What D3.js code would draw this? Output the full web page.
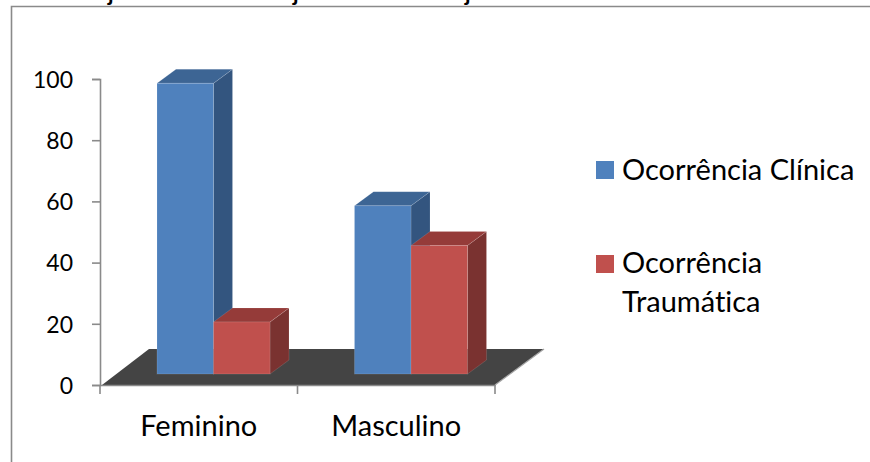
<!DOCTYPE html>
<html>
<head>
<meta charset="utf-8">
<script src="https://cdn.jsdelivr.net/npm/d3@7"></script>
<style>
  html, body { margin: 0; padding: 0; background: #fff; }
  svg { display: block; }
  text { font-family: Lato, "Open Sans", sans-serif; fill: #000; font-variant-ligatures: none; }
</style>
</head>
<body>
<svg width="870" height="462"></svg>
<script>
var categories = ["Feminino", "Masculino"];
var seriesNames = ["Ocorrência Clínica", "Ocorrência Traumática"];
var clinica = [95, 55];
var traumatica = [17, 42];
var yTicks = [0, 20, 40, 60, 80, 100];

var front = ["#4f81bd", "#c0504d"],
    topFace = ["#3d6594", "#953b39"],
    sideFace = ["#33557f", "#7a3230"];

var svg = d3.select("svg");

var x = d3.scaleBand().domain(categories).range([100, 495]);
var y = d3.scaleLinear().domain([0, 100]).range([385, 79]);
var inner = d3.scaleBand().domain(seriesNames).range([57, 170]);

// depth of the floor and of the boxes
var floorDx = 49, floorDy = -36;
var boxDx = 19, boxDy = -14, boxLift = 11;

// sheet border, open at the right and bottom
svg.append("path")
    .attr("d", "M11.5,462V6.5H870")
    .attr("fill", "none")
    .attr("stroke", "#8a8a8a")
    .attr("stroke-width", 1.6);

// descenders of the heading line above the border
svg.append("g")
    .selectAll("text")
    .data([108, 293, 465])
    .enter().append("text")
    .attr("x", function(d) { return d; })
    .attr("y", 1)
    .style("font-size", "22px")
    .style("font-weight", "bold")
    .text("j");

// floor
var fx0 = x.range()[0] + 2, fx1 = x.range()[1], fy = y(0);
svg.append("path")
    .attr("d", d3.line()([
        [fx0, fy], [fx1, fy],
        [fx1 + floorDx, fy + floorDy], [fx0 + floorDx - 2, fy + floorDy]
    ]) + "Z")
    .attr("fill", "#444444");
svg.append("path")
    .attr("d", d3.line()([[fx1, fy], [fx1 + floorDx, fy + floorDy]]))
    .attr("fill", "none")
    .attr("stroke", "#a6a6a6")
    .attr("stroke-width", 1.2);

// boxes, one series at a time so the red ones sit over the blue sides
[clinica, traumatica].forEach(function(values, s) {
    var g = svg.append("g").attr("class", "series");
    var boxes = g.selectAll("g")
        .data(values)
        .enter().append("g");

    function left(d, i) { return x(categories[i]) + inner(seriesNames[s]); }
    var w = inner.bandwidth();
    var base = y(0) - boxLift;

    boxes.append("path")
        .attr("fill", sideFace[s])
        .attr("stroke", "#ffffff")
        .attr("stroke-opacity", 0.12)
        .attr("d", function(d, i) {
            var xr = left(d, i) + w, t = y(d) - boxLift;
            return d3.line()([[xr, t], [xr + boxDx, t + boxDy], [xr + boxDx, base + boxDy], [xr, base]]) + "Z";
        });

    boxes.append("path")
        .attr("fill", topFace[s])
        .attr("stroke", "#ffffff")
        .attr("stroke-opacity", 0.12)
        .attr("d", function(d, i) {
            var xl = left(d, i), t = y(d) - boxLift;
            return d3.line()([[xl, t], [xl + boxDx, t + boxDy], [xl + w + boxDx, t + boxDy], [xl + w, t]]) + "Z";
        });

    boxes.append("rect")
        .attr("fill", front[s])
        .attr("stroke", "#ffffff")
        .attr("stroke-opacity", 0.12)
        .attr("x", left)
        .attr("y", function(d) { return y(d) - boxLift; })
        .attr("width", w)
        .attr("height", function(d) { return base - (y(d) - boxLift); });
});

// value axis
var yAxis = svg.append("g")
    .attr("transform", "translate(100,0)")
    .call(d3.axisLeft(y).tickValues(yTicks).tickSize(8).tickSizeOuter(8).tickPadding(19));
yAxis.selectAll("text").style("font-size", "23px").attr("dy", "0.36em");

// category axis: labels centred in each band, ticks on the band edges
var xAxis = svg.append("g")
    .attr("transform", "translate(0," + y(0) + ")")
    .call(d3.axisBottom(x).tickSize(0).tickPadding(30));
xAxis.selectAll("text").style("font-size", "29px").attr("dy", "0.71em");
xAxis.selectAll(".tick line").remove();
xAxis.selectAll(".edge")
    .data(d3.range(categories.length + 1))
    .enter().append("line")
    .attr("class", "edge")
    .attr("x1", function(i) { return x.range()[0] + i * x.step(); })
    .attr("x2", function(i) { return x.range()[0] + i * x.step(); })
    .attr("y2", 9);

svg.selectAll(".domain, .tick line, .edge")
    .attr("stroke", "#8a8a8a")
    .attr("stroke-width", 1.6)
    .attr("fill", "none");

// legend
var legendRows = [
    { y: 161, lines: ["Ocorrência Clínica"], base: [180] },
    { y: 255, lines: ["Ocorrência", "Traumática"], base: [273, 312] }
];
var legend = svg.selectAll(".legend")
    .data(legendRows)
    .enter().append("g")
    .attr("class", "legend");
legend.append("rect")
    .attr("x", 596)
    .attr("y", function(d) { return d.y; })
    .attr("width", 18)
    .attr("height", 18)
    .attr("fill", function(d, i) { return front[i]; });
legend.selectAll("text")
    .data(function(d) { return d.lines.map(function(t, i) { return { t: t, y: d.base[i] }; }); })
    .enter().append("text")
    .attr("x", 622)
    .attr("y", function(d) { return d.y; })
    .style("font-size", "29px")
    .text(function(d) { return d.t; });
</script>
</body>
</html>
